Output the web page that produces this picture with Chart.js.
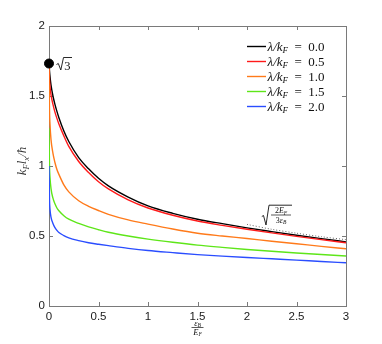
<!DOCTYPE html>
<html>
<head>
<meta charset="utf-8">
<script src="https://cdn.jsdelivr.net/npm/chart.js@4.4.1/dist/chart.umd.min.js"></script>
<style>
html,body{margin:0;padding:0;background:#fff;}
canvas{display:block;}
</style>
</head>
<body>
<canvas id="c" width="382" height="344"></canvas>
<script>
// ---- data ----
const epsB = [0, 0.005, 0.01, 0.02, 0.04, 0.06, 0.08, 0.1, 0.15, 0.2, 0.3, 0.4, 0.5, 0.6, 0.8, 1.0, 1.25, 1.5, 1.75, 2.0, 2.25, 2.5, 2.75, 3.0];
const lam00 = [1.732, 1.68, 1.64, 1.58, 1.50, 1.44, 1.39, 1.345, 1.25, 1.175, 1.06, 0.98, 0.912, 0.858, 0.778, 0.715, 0.662, 0.62, 0.588, 0.558, 0.531, 0.505, 0.481, 0.458];
const lam05 = [1.70, 1.62, 1.57, 1.51, 1.44, 1.385, 1.34, 1.30, 1.215, 1.14, 1.032, 0.953, 0.887, 0.836, 0.758, 0.70, 0.648, 0.607, 0.576, 0.548, 0.522, 0.497, 0.474, 0.452];
const lam10 = [1.70, 1.40, 1.30, 1.19, 1.09, 1.025, 0.975, 0.94, 0.865, 0.815, 0.752, 0.712, 0.682, 0.655, 0.615, 0.585, 0.55, 0.52, 0.5, 0.482, 0.463, 0.445, 0.426, 0.409];
const lam15 = [1.27, 1.00, 0.92, 0.84, 0.77, 0.73, 0.70, 0.68, 0.645, 0.62, 0.59, 0.565, 0.545, 0.527, 0.50, 0.478, 0.455, 0.435, 0.419, 0.404, 0.391, 0.379, 0.368, 0.357];
const lam20 = [1.00, 0.76, 0.69, 0.635, 0.59, 0.56, 0.54, 0.525, 0.503, 0.487, 0.467, 0.452, 0.441, 0.431, 0.412, 0.396, 0.381, 0.367, 0.356, 0.346, 0.337, 0.328, 0.318, 0.309];
const asymX = [2.0, 2.25, 2.5, 2.75, 3.0];
const asymY = [0.583, 0.548, 0.52, 0.495, 0.474];
const dotX = [0];
const dotY = [1.732];
const legendLabels = ['0.0', '0.5', '1.0', '1.5', '2.0'];
const xTicks = [0, 0.5, 1, 1.5, 2, 2.5, 3];
const xTickLabels = ['0', '0.5', '1', '1.5', '2', '2.5', '3'];
const yTicks = [0, 0.5, 1, 1.5, 2];
const yTickLabels = ['0', '0.5', '1', '1.5', '2'];

const colors = ['#000000', '#ff1a1a', '#ff7a1a', '#5ee619', '#2a4dff'];
const seriesList = [lam00, lam05, lam10, lam15, lam20];

const pts = (xs, ys) => xs.map((x, i) => ({x: x, y: ys[i]}));

const datasets = seriesList.map((s, i) => ({
  data: pts(epsB, s),
  borderColor: colors[i],
  borderWidth: 1.4,
  pointRadius: 0,
  cubicInterpolationMode: 'monotone',
  fill: false,
  order: 5 - i
}));
datasets.push({
  data: pts(asymX, asymY),
  borderColor: '#666',
  borderWidth: 1,
  borderDash: [1, 2],
  pointRadius: 0,
  fill: false,
  tension: 0.3
});
datasets.push({
  data: pts(dotX, dotY),
  showLine: false,
  pointRadius: 4.5,
  pointBackgroundColor: '#000',
  pointBorderColor: '#000',
  clip: false
});

const SI = s => `italic ${s}px "Liberation Serif"`;
const SR = s => `${s}px "Liberation Serif"`;

function runs(ctx, parts, x, y, align) {
  let w = 0;
  parts.forEach(p => { ctx.font = p.f; p.w = ctx.measureText(p.t).width; w += p.w; });
  let cx = align === 'center' ? x - w / 2 : (align === 'right' ? x - w : x);
  parts.forEach(p => { ctx.font = p.f; ctx.fillText(p.t, cx, y + (p.dy || 0)); cx += p.w; });
  return w;
}

const frame = {
  id: 'frame',
  beforeDatasetsDraw(chart) {
    const ctx = chart.ctx;
    const a = chart.chartArea;
    const xs = chart.scales.x, ys = chart.scales.y;
    ctx.save();
    ctx.strokeStyle = '#7a7a7a';
    ctx.lineWidth = 1;
    ctx.strokeRect(a.left + 0.5, a.top + 0.5, a.right - a.left, a.bottom - a.top);
    ctx.beginPath();
    const tl = 4;
    xTicks.slice(1, -1).forEach(v => {
      const px = Math.round(xs.getPixelForValue(v)) + 0.5;
      ctx.moveTo(px, a.bottom); ctx.lineTo(px, a.bottom - tl);
      ctx.moveTo(px, a.top); ctx.lineTo(px, a.top + tl);
    });
    yTicks.slice(1, -1).forEach(v => {
      const py = Math.round(ys.getPixelForValue(v)) + 0.5;
      ctx.moveTo(a.left, py); ctx.lineTo(a.left + tl, py);
      ctx.moveTo(a.right, py); ctx.lineTo(a.right - tl, py);
    });
    ctx.stroke();
    ctx.restore();
  },
  afterDraw(chart) {
    const ctx = chart.ctx;
    const xs = chart.scales.x, ys = chart.scales.y;
    ctx.save();
    ctx.fillStyle = '#111';
    ctx.strokeStyle = '#111';
    ctx.textBaseline = 'alphabetic';

    // legend
    const lx0 = 247, lx1 = 266;
    legendLabels.forEach((lab, i) => {
      const y = 46 + i * 15;
      ctx.strokeStyle = colors[i];
      ctx.lineWidth = 1.4;
      ctx.beginPath(); ctx.moveTo(lx0, y + 0.5); ctx.lineTo(lx1, y + 0.5); ctx.stroke();
      ctx.fillStyle = '#111';
      runs(ctx, [
        {t: 'λ/k', f: SI(13)},
        {t: 'F', f: SI(9), dy: 2.5},
        {t: '\u2002=\u2002' + lab, f: SR(13)}
      ], 267.5, y + 4.5, 'left');
    });

    // sqrt(3) label
    ctx.strokeStyle = '#111';
    ctx.lineWidth = 0.9;
    ctx.beginPath();
    ctx.moveTo(56.5, 64.5); ctx.lineTo(58.3, 63.5); ctx.lineTo(60.8, 70); ctx.lineTo(63.5, 57.5); ctx.lineTo(72, 57.5);
    ctx.stroke();
    ctx.font = SR(12.5);
    ctx.fillText('3', 64.3, 69.5);

    // asymptote label sqrt(2E_F / 3 eps_B)
    ctx.beginPath();
    ctx.moveTo(261.8, 216.5); ctx.lineTo(263.5, 215.5); ctx.lineTo(266, 225); ctx.lineTo(269, 205.2); ctx.lineTo(292, 205.2);
    ctx.stroke();
    ctx.lineWidth = 0.7;
    ctx.beginPath(); ctx.moveTo(271, 215); ctx.lineTo(291, 215); ctx.stroke();
    runs(ctx, [
      {t: '2', f: SR(8)}, {t: 'E', f: SI(8)}, {t: 'F', f: SI(5.5), dy: 1.5}
    ], 281, 213, 'center');
    runs(ctx, [
      {t: '3', f: SR(8)}, {t: 'ε', f: SI(8)}, {t: 'B', f: SI(5.5), dy: 1.5}
    ], 281, 222.5, 'center');

    // x axis title: eps_B / E_F
    const cx = xs.getPixelForValue(1.5);
    runs(ctx, [{t: 'ε', f: SI(8.5)}, {t: 'B', f: SI(5.5), dy: 1.5}], cx, 325.5, 'center');
    ctx.lineWidth = 0.7;
    ctx.beginPath(); ctx.moveTo(cx - 6, 327.5); ctx.lineTo(cx + 6, 327.5); ctx.stroke();
    runs(ctx, [{t: 'E', f: SI(8.5)}, {t: 'F', f: SI(5.5), dy: 1.5}], cx, 334.5, 'center');

    // y axis title: k_F l_x / hbar
    ctx.save();
    ctx.translate(26, 161);
    ctx.rotate(-Math.PI / 2);
    ctx.fillStyle = '#333';
    runs(ctx, [
      {t: 'k', f: SI(13)}, {t: 'F', f: SI(8.5), dy: 2.5},
      {t: 'l', f: SI(13)}, {t: 'x', f: SI(8.5), dy: 2.5},
      {t: '/ħ', f: SI(13)}
    ], 0, 0, 'center');
    ctx.restore();

    ctx.restore();
  }
};

new Chart(document.getElementById('c'), {
  type: 'line',
  data: {datasets: datasets},
  options: {
    responsive: false,
    animation: false,
    devicePixelRatio: 1,
    layout: {padding: {left: 0, right: 36, top: 26, bottom: 0}},
    plugins: {legend: {display: false}, tooltip: {enabled: false}},
    scales: {
      x: {
        type: 'linear', min: 0, max: 3,
        afterFit: s => { s.height = 38; },
        afterBuildTicks: s => { s.ticks = xTicks.map(v => ({value: v})); },
        grid: {display: false, drawTicks: false},
        border: {display: false},
        ticks: {padding: 4, color: '#1a1a1a', font: {family: 'Liberation Sans', size: 11.5}, maxRotation: 0,
          callback: (v, i) => xTickLabels[i]}
      },
      y: {
        type: 'linear', min: 0, max: 2,
        afterFit: s => { s.width = 49; },
        afterBuildTicks: s => { s.ticks = yTicks.map(v => ({value: v})); },
        grid: {display: false, drawTicks: false},
        border: {display: false},
        ticks: {padding: 4, color: '#1a1a1a', font: {family: 'Liberation Sans', size: 11.5},
          callback: (v, i) => yTickLabels[i]}
      }
    }
  },
  plugins: [frame]
});
</script>
</body>
</html>
